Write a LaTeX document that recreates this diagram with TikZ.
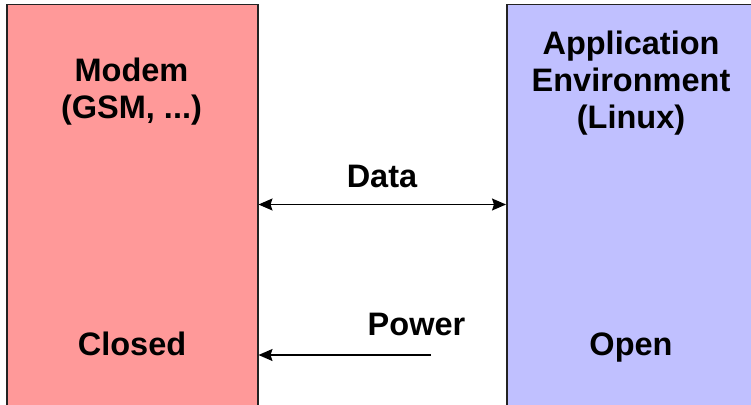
\documentclass[tikz,border=0pt]{standalone}
\usepackage{fontspec}
\setmainfont{Liberation Sans}
\usetikzlibrary{arrows.meta}
\definecolor{modempink}{RGB}{255,153,153}
\definecolor{applav}{RGB}{192,192,255}
\definecolor{edge}{RGB}{35,35,35}
\tikzset{
  panel/.style={draw=edge, line width=1.5pt, inner sep=0pt, anchor=north west, minimum width=251pt, minimum height=420pt},
  lbl/.style={font=\bfseries\fontsize{32.5}{37}\selectfont, inner sep=0pt, align=center, anchor=base},
}
\begin{document}
\begin{tikzpicture}[x=1pt,y=-1pt]
\useasboundingbox (0,0) rectangle (751,404);
\clip (0,0) rectangle (751,404);
\node[panel, fill=modempink] (modem) at (6,4) {};
\node[panel, fill=applav] (app) at (506,4) {};
\node[lbl] (modemtxt) at (131.5,118) {Modem\\(GSM, ...)};
\node[lbl] (apptxt) at (631,128) {Application\\Environment\\(Linux)};
\node[lbl] (closed) at (132,355) {Closed};
\node[lbl] (open) at (631,355) {Open};
\node[lbl] (datatxt) at (382,187) {Data};
\node[lbl] (powertxt) at (416.5,335) {Power};
\coordinate (powersrc) at (431,355);
\draw[line width=1.4pt, {Stealth[length=14pt,width=12pt,inset=2pt]}-{Stealth[length=14pt,width=12pt,inset=2pt]}] (modem.east |- 0,204.5) -- (app.west |- 0,204.5);
\draw[line width=1.4pt, -{Stealth[length=14pt,width=12pt,inset=2pt]}] (powersrc) -- (modem.east |- powersrc);
\end{tikzpicture}
\end{document}
